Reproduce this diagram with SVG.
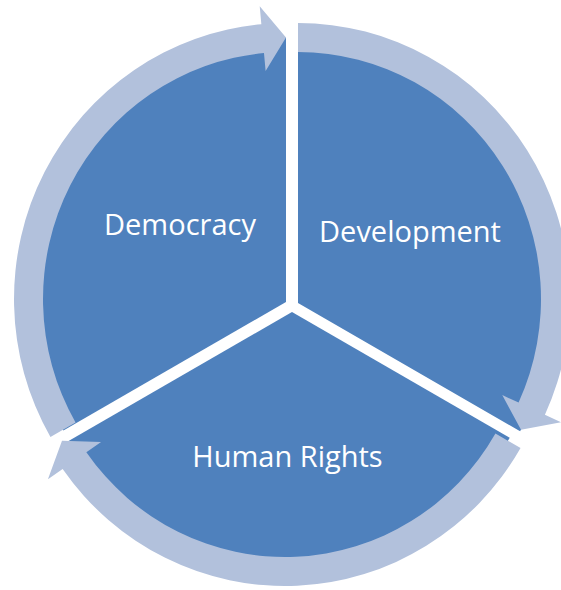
<svg xmlns="http://www.w3.org/2000/svg" width="561" height="590" viewBox="0 0 561 590">
  <style>
    .seg { fill: #4F81BD; }
    .arrow { fill: #B2C1DC; }
    .lbl { font-family: "Open Sans", "Liberation Sans", sans-serif; font-size: 29px; fill: #FFFFFF; text-anchor: middle; }
  </style>
  <rect x="0" y="0" width="561" height="590" fill="#FFFFFF"/>
  <g id="democracy">
    <path class="seg" d="M286,302 L63.4,430.5 A257.5,261.5 0 0 1 286,37.5 Z"/>
    <text class="lbl" x="180" y="235">Democracy</text>
  </g>
  <g id="development">
    <path class="seg" d="M298,303 L298,37.5 A257.5,261.5 0 0 1 520.1,431.3 Z"/>
    <text class="lbl" x="410" y="242">Development</text>
  </g>
  <g id="human-rights">
    <path class="seg" d="M292,312 L509.7,437.7 A257.5,261.5 0 0 1 63.8,443.75 Z"/>
    <text class="lbl" x="287.5" y="467">Human Rights</text>
  </g>
  <g id="connectors">
    <path class="arrow" d="M50.45,437 A272,276 0 0 1 261.35,24.14 L259.72,6.21 L286,37.5 L265.61,70.94 L263.98,53.02 A243,247 0 0 0 75.56,422.5 Z"/>
    <path class="arrow" d="M298,23 A272,276 0 0 1 544.92,414.77 L561.26,422.32 L521,429.75 L502.25,395.05 L518.59,402.6 A243,247 0 0 0 298,52 Z"/>
    <path class="arrow" d="M520.56,448 A272,276 0 0 1 62.65,468.97 L47.93,479.33 L62,440.75 L101.07,441.89 L86.35,452.26 A243,247 0 0 0 495.44,433.5 Z"/>
  </g>
</svg>
